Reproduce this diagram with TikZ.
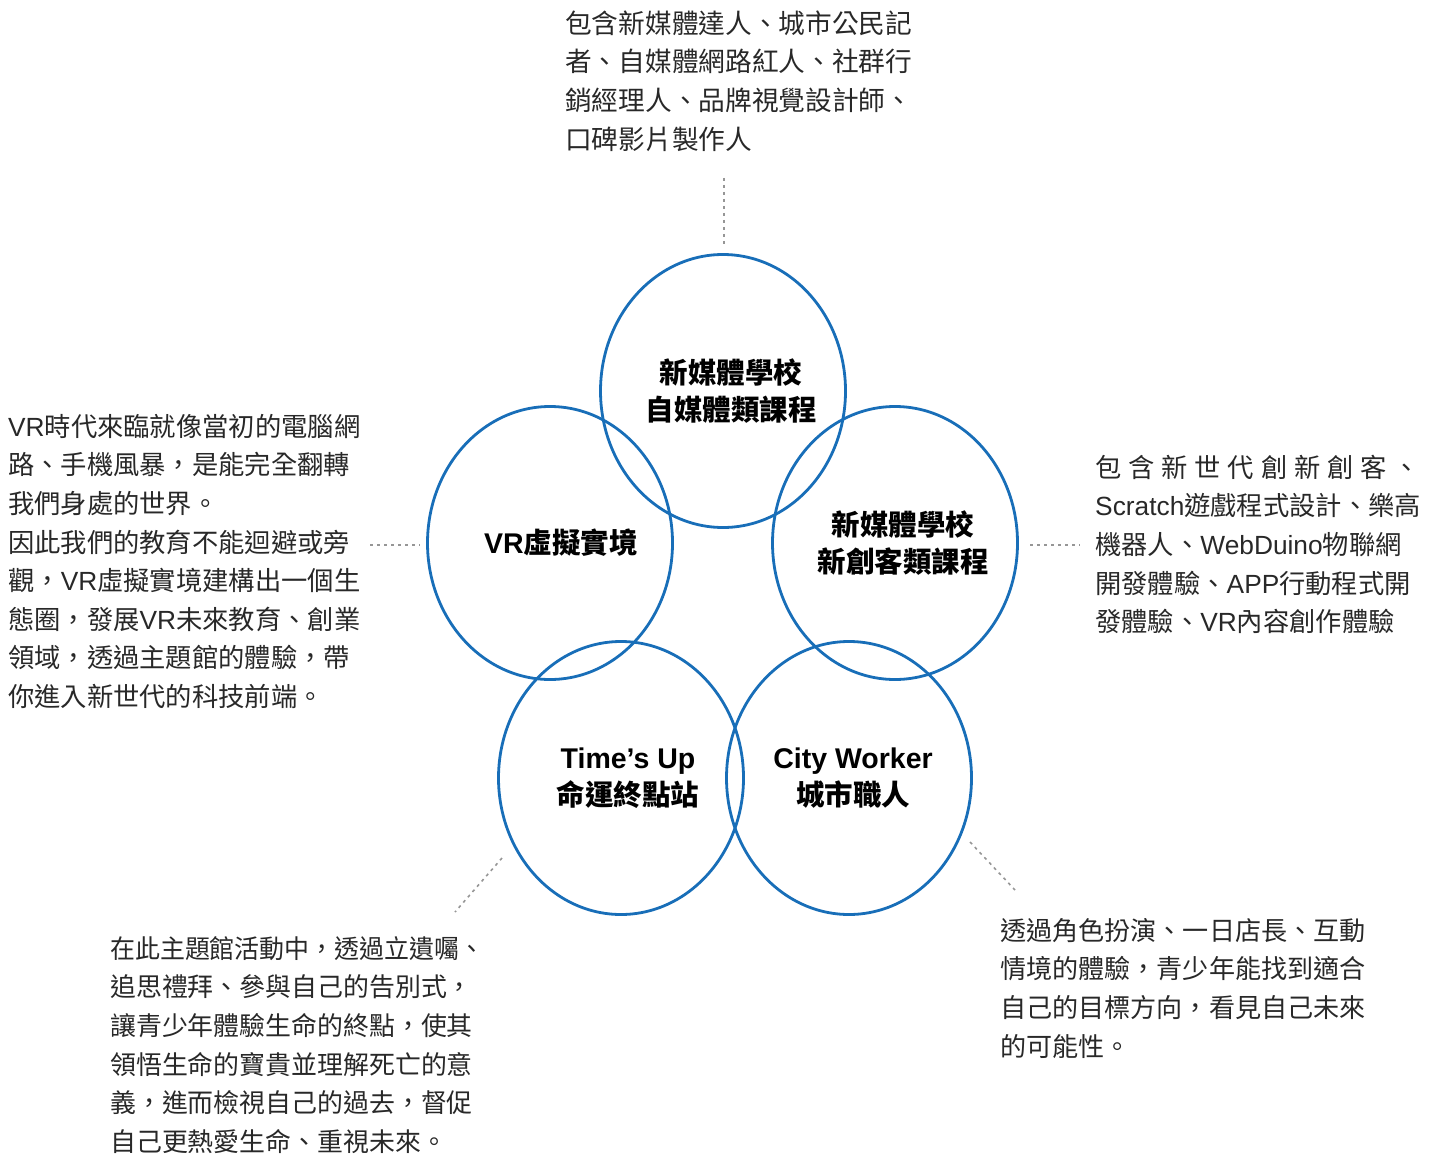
\documentclass[tikz,border=0pt]{standalone}
\usepackage{fontspec}
\usepackage{graphicx}
\setmainfont{Noto Sans CJK TC}
\newfontfamily\lat{Liberation Sans}
\usetikzlibrary{shapes.geometric}
\definecolor{ringblue}{RGB}{24,110,184}
\definecolor{txtgray}{RGB}{40,40,40}
\definecolor{dotgray}{RGB}{150,150,150}
\begin{document}
\begin{tikzpicture}[x=1pt,y=-1pt,
  ring/.style={ellipse, draw=ringblue, line width=2.8pt, minimum width=245pt, minimum height=273pt, inner sep=0pt},
  ringlabel/.style={align=center, text=black, inner sep=0pt, font=\bfseries\fontsize{28.5}{37}\selectfont},
  desc/.style={align=left, anchor=north west, inner sep=0pt, text=txtgray, font=\fontsize{#1}{38.6}\selectfont},
  desc/.default=26.3,
  leader/.style={draw=dotgray, line width=1.6pt, dash pattern=on 3pt off 4pt}]
\useasboundingbox (0,0) rectangle (1439,1155);

% circles
\node[ring] (top) at (723,391) {};
\node[ring] (left) at (550,543) {};
\node[ring] (right) at (895,543) {};
\node[ring] (bl) at (621,778) {};
\node[ring] (br) at (849,778) {};

% circle labels
\node[ringlabel] (topL) at ([xshift=8pt]top.center) {新媒體學校\\自媒體類課程};
\node[ringlabel] (leftL) at ([xshift=11pt]left.center) {{\lat\bfseries VR}虛擬實境};
\node[ringlabel] (rightL) at ([xshift=8pt]right.center) {新媒體學校\\新創客類課程};
\node[ringlabel] (blL) at ([xshift=7pt]bl.center) {{\lat\bfseries Time’s Up}\\命運終點站};
\node[ringlabel] (brL) at ([xshift=4pt]br.center) {{\lat\bfseries City Worker}\\城市職人};

% description texts
\node[desc=26.7] (topT) at (565,6) {\strut 包含新媒體達人、城市公民記\\者、自媒體網路紅人、社群行\\銷經理人、品牌視覺設計師、\\口碑影片製作人};
\node[desc] (leftT) at (8,409) {\strut{\lat VR}時代來臨就像當初的電腦網\\路、手機風暴，是能完全翻轉\\我們身處的世界。\\因此我們的教育不能迴避或旁\\觀，{\lat VR}虛擬實境建構出一個生\\態圈，發展{\lat VR}未來教育、創業\\領域，透過主題館的體驗，帶\\你進入新世代的科技前端。};
\node[desc] (rightT) at (1095,450) {\strut\makebox[325pt][s]{包\hfill 含\hfill 新\hfill 世\hfill 代\hfill 創\hfill 新\hfill 創\hfill 客\hfill 、}\\{\lat Scratch}遊戲程式設計、樂高\\機器人、{\lat WebDuino}物聯網\\開發體驗、{\lat APP}行動程式開\\發體驗、{\lat VR}內容創作體驗};
\node[desc=25.9] (blT) at (110,931) {\strut\scalebox{0.963}[1]{在此主題館活動中，透過立遺囑、}\\追思禮拜、參與自己的告別式，\\讓青少年體驗生命的終點，使其\\領悟生命的寶貴並理解死亡的意\\義，進而檢視自己的過去，督促\\自己更熱愛生命、重視未來。};
\node[desc=26.1] (brT) at (1000,913) {\strut 透過角色扮演、一日店長、互動\\情境的體驗，青少年能找到適合\\自己的目標方向，看見自己未來\\的可能性。};

% leader lines
\coordinate (tA) at (724,178); \coordinate (tB) at (724,245);
\coordinate (lA) at (370,545); \coordinate (lB) at (420,545);
\coordinate (rA) at (1030,545); \coordinate (rB) at (1080,545);
\coordinate (blA) at (502,858); \coordinate (blB) at (455,912);
\coordinate (brA) at (970,842); \coordinate (brB) at (1015,890);
\draw[leader] (tA) -- (tB);
\draw[leader] (lA) -- (lB);
\draw[leader] (rA) -- (rB);
\draw[leader] (blA) -- (blB);
\draw[leader] (brA) -- (brB);
\end{tikzpicture}
\end{document}
